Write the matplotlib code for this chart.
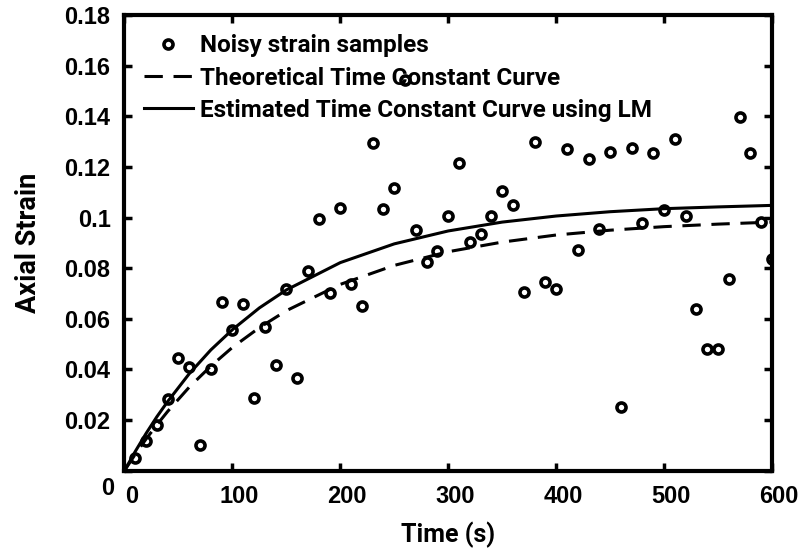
import matplotlib
matplotlib.use("Agg")
import matplotlib.pyplot as plt
import matplotlib.transforms as mtransforms

# noisy samples, every 10 s
t_samples = list(range(10, 601, 10))
strain_samples = [
    0.0049, 0.0119, 0.0181, 0.0283, 0.0446, 0.0410, 0.0102, 0.0403, 0.0668, 0.0556,
    0.0657, 0.0288, 0.0569, 0.0416, 0.0718, 0.0366, 0.0789, 0.0993, 0.0701, 0.1037,
    0.0738, 0.0649, 0.1296, 0.1034, 0.1117, 0.1545, 0.0952, 0.0824, 0.0868, 0.1005,
    0.1215, 0.0903, 0.0935, 0.1005, 0.1105, 0.1051, 0.0706, 0.1298, 0.0744, 0.0718,
    0.1270, 0.0872, 0.1231, 0.0955, 0.1258, 0.0250, 0.1273, 0.0980, 0.1255, 0.1030,
    0.1310, 0.1007, 0.0639, 0.0480, 0.0480, 0.0757, 0.1397, 0.1254, 0.0984, 0.0835,
]

# curves
t_curve = [0, 10, 20, 30, 40, 60, 80, 100, 125, 150, 200, 250, 300, 350, 400, 450, 500, 550, 600]
theoretical = [0, 0.0065, 0.0125, 0.0181, 0.0234, 0.0330, 0.0413, 0.0487, 0.0565, 0.0632,
               0.0736, 0.0811, 0.0865, 0.0903, 0.0931, 0.0950, 0.0964, 0.0974, 0.0982]
estimated = [0, 0.0076, 0.0147, 0.0213, 0.0273, 0.0383, 0.0477, 0.0557, 0.0643, 0.0714,
             0.0822, 0.0896, 0.0947, 0.0982, 0.1006, 0.1023, 0.1035, 0.1042, 0.1048]

x_ticks = [0, 100, 200, 300, 400, 500, 600]
y_ticks = [0, 0.02, 0.04, 0.06, 0.08, 0.1, 0.12, 0.14, 0.16, 0.18]
y_labels = ["", "0.02", "0.04", "0.06", "0.08", "0.1", "0.12", "0.14", "0.16", "0.18"]

tick_font = ["Liberation Sans Narrow", "Liberation Sans", "DejaVu Sans"]
label_font = ["Roboto", "DejaVu Sans"]

fig = plt.figure(figsize=(8.02, 5.5), dpi=100)
ax = fig.add_axes([0.1552, 0.1442, 0.8074, 0.8285])

ax.plot(t_samples, strain_samples, linestyle="none", marker="o", ms=6.5,
        mfc="white", mec="black", mew=2.6, label="Noisy strain samples")
ax.plot(t_curve, theoretical, color="black", lw=2.2, dashes=(6, 3.5),
        label="Theoretical Time Constant Curve")
ax.plot(t_curve, estimated, color="black", lw=2.2,
        label="Estimated Time Constant Curve using LM")

ax.set_xlim(0, 600)
ax.set_ylim(0, 0.18)
ax.set_xticks(x_ticks)
ax.set_xticklabels([str(v) for v in x_ticks])
ax.set_yticks(y_ticks)
ax.set_yticklabels(y_labels)
ax.tick_params(direction="in", length=6, width=2.5, top=True, right=True, pad=10)
for lab in ax.get_xticklabels() + ax.get_yticklabels():
    lab.set_fontfamily(tick_font)
    lab.set_fontweight("bold")
    lab.set_fontsize(17)
shift = mtransforms.ScaledTranslation(7 / 100, 0, fig.dpi_scale_trans)
for lab in ax.get_xticklabels():
    lab.set_transform(lab.get_transform() + shift)
for s in ax.spines.values():
    s.set_linewidth(3)

ax.text(-0.026, -0.038, "0", transform=ax.transAxes, ha="center", va="center",
        fontsize=17, fontweight="bold", family=tick_font)

ax.set_xlabel("Time (s)", fontsize=18, fontweight="bold", family=label_font, labelpad=10)
ax.set_ylabel("Axial Strain", fontsize=19.5, fontweight="bold", family=label_font, labelpad=16)

leg = ax.legend(loc="upper left", frameon=False, handlelength=2.0, handletextpad=0.3,
                labelspacing=0.38, borderaxespad=0.4, borderpad=0.4,
                prop={"family": label_font, "size": 17.5, "weight": "bold"})

fig.savefig("out.png", dpi=100)
